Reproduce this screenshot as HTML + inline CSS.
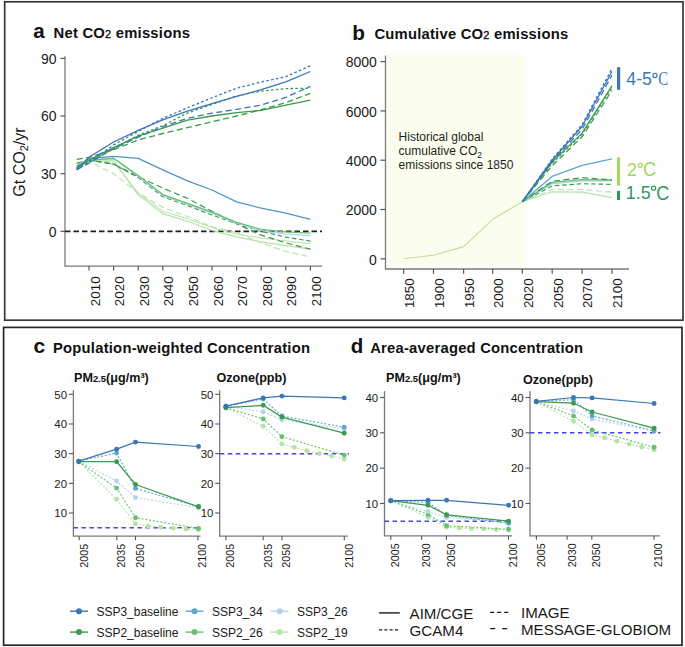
<!DOCTYPE html>
<html><head><meta charset="utf-8"><style>
html,body{margin:0;padding:0;background:#fff;}
body{width:685px;height:647px;overflow:hidden;font-family:"Liberation Sans",sans-serif;}
svg{display:block;}
</style></head><body>
<svg width="685" height="647" viewBox="0 0 685 647">
<rect width="685" height="647" fill="#fefefe"/>
<rect x="4.7" y="1.8" width="678.3" height="318.4" fill="none" stroke="#383838" stroke-width="1.7"/>
<rect x="3.6" y="327.4" width="678.4" height="317.8" fill="none" stroke="#262626" stroke-width="1.7"/>
<text x="33.20" y="37.50" font-family="Liberation Sans" font-size="20.5" font-weight="bold" text-anchor="start" fill="#111" >a</text>
<text x="53.6" y="37.6" font-family="Liberation Sans" font-size="14.8" letter-spacing="0.22" font-weight="bold" fill="#111">Net CO<tspan font-size="11" font-weight="normal" stroke="#111" stroke-width="0.35">2</tspan> emissions</text>
<text x="24.5" y="162" font-family="Liberation Sans" font-size="16" text-anchor="middle" fill="#1a1a1a" transform="rotate(-90 24.5 162)">Gt CO<tspan font-size="11" dy="3">2</tspan><tspan dy="-3">/yr</tspan></text>
<line x1="65.00" y1="56.30" x2="65.00" y2="266.80" stroke="#7a7a7a" stroke-width="1.3"/>
<line x1="65.00" y1="266.20" x2="322.00" y2="266.20" stroke="#7a7a7a" stroke-width="1.3"/>
<line x1="60.50" y1="231.30" x2="65.00" y2="231.30" stroke="#555555" stroke-width="1.2"/>
<text x="56.60" y="236.70" font-family="Liberation Sans" font-size="14" font-weight="normal" text-anchor="end" fill="#1a1a1a" >0</text>
<line x1="60.50" y1="173.67" x2="65.00" y2="173.67" stroke="#555555" stroke-width="1.2"/>
<text x="56.60" y="179.07" font-family="Liberation Sans" font-size="14" font-weight="normal" text-anchor="end" fill="#1a1a1a" >30</text>
<line x1="60.50" y1="116.04" x2="65.00" y2="116.04" stroke="#555555" stroke-width="1.2"/>
<text x="56.60" y="121.44" font-family="Liberation Sans" font-size="14" font-weight="normal" text-anchor="end" fill="#1a1a1a" >60</text>
<line x1="60.50" y1="58.41" x2="65.00" y2="58.41" stroke="#555555" stroke-width="1.2"/>
<text x="56.60" y="63.81" font-family="Liberation Sans" font-size="14" font-weight="normal" text-anchor="end" fill="#1a1a1a" >90</text>
<line x1="89.00" y1="266.20" x2="89.00" y2="270.60" stroke="#555555" stroke-width="1.2"/>
<text x="99.60" y="276.40" font-family="Liberation Sans" font-size="13.4" font-weight="normal" text-anchor="end" fill="#1a1a1a" transform="rotate(-90 99.60 276.40)" >2010</text>
<line x1="113.60" y1="266.20" x2="113.60" y2="270.60" stroke="#555555" stroke-width="1.2"/>
<text x="124.20" y="276.40" font-family="Liberation Sans" font-size="13.4" font-weight="normal" text-anchor="end" fill="#1a1a1a" transform="rotate(-90 124.20 276.40)" >2020</text>
<line x1="138.20" y1="266.20" x2="138.20" y2="270.60" stroke="#555555" stroke-width="1.2"/>
<text x="148.80" y="276.40" font-family="Liberation Sans" font-size="13.4" font-weight="normal" text-anchor="end" fill="#1a1a1a" transform="rotate(-90 148.80 276.40)" >2030</text>
<line x1="162.80" y1="266.20" x2="162.80" y2="270.60" stroke="#555555" stroke-width="1.2"/>
<text x="173.40" y="276.40" font-family="Liberation Sans" font-size="13.4" font-weight="normal" text-anchor="end" fill="#1a1a1a" transform="rotate(-90 173.40 276.40)" >2040</text>
<line x1="187.40" y1="266.20" x2="187.40" y2="270.60" stroke="#555555" stroke-width="1.2"/>
<text x="198.00" y="276.40" font-family="Liberation Sans" font-size="13.4" font-weight="normal" text-anchor="end" fill="#1a1a1a" transform="rotate(-90 198.00 276.40)" >2050</text>
<line x1="212.00" y1="266.20" x2="212.00" y2="270.60" stroke="#555555" stroke-width="1.2"/>
<text x="222.60" y="276.40" font-family="Liberation Sans" font-size="13.4" font-weight="normal" text-anchor="end" fill="#1a1a1a" transform="rotate(-90 222.60 276.40)" >2060</text>
<line x1="236.60" y1="266.20" x2="236.60" y2="270.60" stroke="#555555" stroke-width="1.2"/>
<text x="247.20" y="276.40" font-family="Liberation Sans" font-size="13.4" font-weight="normal" text-anchor="end" fill="#1a1a1a" transform="rotate(-90 247.20 276.40)" >2070</text>
<line x1="261.20" y1="266.20" x2="261.20" y2="270.60" stroke="#555555" stroke-width="1.2"/>
<text x="271.80" y="276.40" font-family="Liberation Sans" font-size="13.4" font-weight="normal" text-anchor="end" fill="#1a1a1a" transform="rotate(-90 271.80 276.40)" >2080</text>
<line x1="285.80" y1="266.20" x2="285.80" y2="270.60" stroke="#555555" stroke-width="1.2"/>
<text x="296.40" y="276.40" font-family="Liberation Sans" font-size="13.4" font-weight="normal" text-anchor="end" fill="#1a1a1a" transform="rotate(-90 296.40 276.40)" >2090</text>
<line x1="310.40" y1="266.20" x2="310.40" y2="270.60" stroke="#555555" stroke-width="1.2"/>
<text x="321.00" y="276.40" font-family="Liberation Sans" font-size="13.4" font-weight="normal" text-anchor="end" fill="#1a1a1a" transform="rotate(-90 321.00 276.40)" >2100</text>
<line x1="65.00" y1="231.30" x2="322.00" y2="231.30" stroke="#1e1e1e" stroke-width="1.8" stroke-dasharray="5.5 3"/>
<polyline points="76.7,164.1 89.0,161.2 113.6,173.7 138.2,192.9 162.8,207.3 187.4,216.5 212.0,226.7 236.6,232.6 261.2,242.8 285.8,251.5 310.4,256.8" fill="none" stroke="#b6e2aa" stroke-width="1.1" stroke-dasharray="6 3.5" stroke-linejoin="round" />
<polyline points="76.7,167.9 89.0,160.2 113.6,162.1 138.2,192.9 162.8,211.1 187.4,218.8 212.0,227.5 236.6,234.2 261.2,238.0 285.8,240.9 310.4,243.8" fill="none" stroke="#b6e2aa" stroke-width="1.0" stroke-linejoin="round" />
<polyline points="76.7,167.9 89.0,160.2 113.6,160.2 138.2,194.8 162.8,213.6 187.4,221.3 212.0,230.3 236.6,236.9 261.2,241.9 285.8,245.7 310.4,249.2" fill="none" stroke="#b6e2aa" stroke-width="1.2" stroke-linejoin="round" />
<polyline points="76.7,163.1 89.0,160.2 113.6,164.1 138.2,176.6 162.8,188.1 187.4,198.3 212.0,211.3 236.6,223.8 261.2,235.1 285.8,242.8 310.4,249.2" fill="none" stroke="#3b9a4b" stroke-width="1.2" stroke-dasharray="6 3.5" stroke-linejoin="round" />
<polyline points="76.7,166.0 89.0,160.2 113.6,164.1 138.2,177.5 162.8,196.7 187.4,205.6 212.0,215.0 236.6,223.8 261.2,231.3 285.8,237.1 310.4,241.1" fill="none" stroke="#3b9a4b" stroke-width="1.2" stroke-dasharray="4.5 2.8" stroke-linejoin="round" />
<polyline points="76.7,167.9 89.0,160.2 113.6,158.3 138.2,176.6 162.8,195.6 187.4,204.4 212.0,213.1 236.6,223.2 261.2,230.7 285.8,234.2 310.4,235.7" fill="none" stroke="#b4d3ea" stroke-width="1.2" stroke-linejoin="round" />
<polyline points="76.7,167.9 89.0,160.2 113.6,158.3 138.2,175.6 162.8,194.6 187.4,203.4 212.0,212.1 236.6,222.3 261.2,229.4 285.8,231.9 310.4,233.2" fill="none" stroke="#68bf70" stroke-width="1.3" stroke-linejoin="round" />
<polyline points="76.7,168.9 89.0,158.3 113.6,156.4 138.2,158.3 162.8,169.8 187.4,180.8 212.0,190.0 236.6,201.9 261.2,208.2 285.8,213.1 310.4,219.4" fill="none" stroke="#4d96c8" stroke-width="1.3" stroke-linejoin="round" />
<polyline points="76.7,159.3 89.0,157.3 113.6,149.7 138.2,139.9 162.8,133.5 187.4,127.6 212.0,121.8 236.6,116.0 261.2,109.7 285.8,102.6 310.4,93.4" fill="none" stroke="#3b9a4b" stroke-width="1.3" stroke-dasharray="6 3.5" stroke-linejoin="round" />
<polyline points="76.7,167.9 89.0,160.2 113.6,147.7 138.2,136.2 162.8,128.1 187.4,120.1 212.0,116.0 236.6,112.6 261.2,110.3 285.8,105.1 310.4,100.1" fill="none" stroke="#3b9a4b" stroke-width="1.3" stroke-linejoin="round" />
<polyline points="76.7,169.8 89.0,163.1 113.6,148.7 138.2,137.2 162.8,126.6 187.4,118.3 212.0,113.2 236.6,109.3 261.2,105.1 285.8,97.4 310.4,86.3" fill="none" stroke="#3a76b6" stroke-width="1.3" stroke-dasharray="6 3.5" stroke-linejoin="round" />
<polyline points="76.7,167.9 89.0,162.1 113.6,148.7 138.2,135.2 162.8,125.6 187.4,113.0 212.0,104.5 236.6,95.9 261.2,91.1 285.8,88.6 310.4,88.2" fill="none" stroke="#3b9a4b" stroke-width="1.3" stroke-dasharray="2.6 2.3" stroke-linejoin="round" />
<polyline points="76.7,169.8 89.0,162.1 113.6,144.9 138.2,131.4 162.8,118.3 187.4,107.8 212.0,97.8 236.6,88.2 261.2,82.0 285.8,76.7 310.4,65.7" fill="none" stroke="#3a76b6" stroke-width="1.3" stroke-dasharray="2.6 2.3" stroke-linejoin="round" />
<polyline points="76.7,168.9 89.0,157.3 113.6,142.0 138.2,130.4 162.8,119.9 187.4,111.2 212.0,103.6 236.6,96.3 261.2,89.7 285.8,81.8 310.4,71.5" fill="none" stroke="#3a76b6" stroke-width="1.3" stroke-linejoin="round" />
<text x="352.20" y="39.80" font-family="Liberation Sans" font-size="20.8" font-weight="bold" text-anchor="start" fill="#111" >b</text>
<text x="374.4" y="39" font-family="Liberation Sans" font-size="14.8" letter-spacing="0.22" font-weight="bold" fill="#111">Cumulative CO<tspan font-size="11" font-weight="normal" stroke="#111" stroke-width="0.35">2</tspan> emissions</text>
<rect x="386.5" y="54.2" width="137.3" height="212.8" fill="#fbfeee"/>
<line x1="385.50" y1="55.50" x2="385.50" y2="269.60" stroke="#7a7a7a" stroke-width="1.3"/>
<line x1="385.50" y1="269.00" x2="629.00" y2="269.00" stroke="#7a7a7a" stroke-width="1.3"/>
<line x1="380.50" y1="258.80" x2="385.50" y2="258.80" stroke="#555555" stroke-width="1.2"/>
<text x="376.80" y="264.50" font-family="Liberation Sans" font-size="14" font-weight="normal" text-anchor="end" fill="#1a1a1a" >0</text>
<line x1="380.50" y1="209.50" x2="385.50" y2="209.50" stroke="#555555" stroke-width="1.2"/>
<text x="376.80" y="215.20" font-family="Liberation Sans" font-size="14" font-weight="normal" text-anchor="end" fill="#1a1a1a" >2000</text>
<line x1="380.50" y1="160.20" x2="385.50" y2="160.20" stroke="#555555" stroke-width="1.2"/>
<text x="376.80" y="165.90" font-family="Liberation Sans" font-size="14" font-weight="normal" text-anchor="end" fill="#1a1a1a" >4000</text>
<line x1="380.50" y1="110.90" x2="385.50" y2="110.90" stroke="#555555" stroke-width="1.2"/>
<text x="376.80" y="116.60" font-family="Liberation Sans" font-size="14" font-weight="normal" text-anchor="end" fill="#1a1a1a" >6000</text>
<line x1="380.50" y1="61.60" x2="385.50" y2="61.60" stroke="#555555" stroke-width="1.2"/>
<text x="376.80" y="67.30" font-family="Liberation Sans" font-size="14" font-weight="normal" text-anchor="end" fill="#1a1a1a" >8000</text>
<line x1="403.70" y1="269.00" x2="403.70" y2="273.80" stroke="#555555" stroke-width="1.2"/>
<text x="414.10" y="278.30" font-family="Liberation Sans" font-size="13.4" font-weight="normal" text-anchor="end" fill="#1a1a1a" transform="rotate(-90 414.10 278.30)" >1850</text>
<line x1="433.50" y1="269.00" x2="433.50" y2="273.80" stroke="#555555" stroke-width="1.2"/>
<text x="443.90" y="278.30" font-family="Liberation Sans" font-size="13.4" font-weight="normal" text-anchor="end" fill="#1a1a1a" transform="rotate(-90 443.90 278.30)" >1900</text>
<line x1="463.60" y1="269.00" x2="463.60" y2="273.80" stroke="#555555" stroke-width="1.2"/>
<text x="474.00" y="278.30" font-family="Liberation Sans" font-size="13.4" font-weight="normal" text-anchor="end" fill="#1a1a1a" transform="rotate(-90 474.00 278.30)" >1950</text>
<line x1="492.70" y1="269.00" x2="492.70" y2="273.80" stroke="#555555" stroke-width="1.2"/>
<text x="503.10" y="278.30" font-family="Liberation Sans" font-size="13.4" font-weight="normal" text-anchor="end" fill="#1a1a1a" transform="rotate(-90 503.10 278.30)" >2000</text>
<line x1="522.30" y1="269.00" x2="522.30" y2="273.80" stroke="#555555" stroke-width="1.2"/>
<text x="532.70" y="278.30" font-family="Liberation Sans" font-size="13.4" font-weight="normal" text-anchor="end" fill="#1a1a1a" transform="rotate(-90 532.70 278.30)" >2020</text>
<line x1="552.20" y1="269.00" x2="552.20" y2="273.80" stroke="#555555" stroke-width="1.2"/>
<text x="562.60" y="278.30" font-family="Liberation Sans" font-size="13.4" font-weight="normal" text-anchor="end" fill="#1a1a1a" transform="rotate(-90 562.60 278.30)" >2050</text>
<line x1="582.10" y1="269.00" x2="582.10" y2="273.80" stroke="#555555" stroke-width="1.2"/>
<text x="592.50" y="278.30" font-family="Liberation Sans" font-size="13.4" font-weight="normal" text-anchor="end" fill="#1a1a1a" transform="rotate(-90 592.50 278.30)" >2070</text>
<line x1="612.00" y1="269.00" x2="612.00" y2="273.80" stroke="#555555" stroke-width="1.2"/>
<text x="622.40" y="278.30" font-family="Liberation Sans" font-size="13.4" font-weight="normal" text-anchor="end" fill="#1a1a1a" transform="rotate(-90 622.40 278.30)" >2100</text>
<polyline points="403.7,258.8 433.5,255.2 463.6,246.6 492.7,219.3 522.3,201.7" fill="none" stroke="#bfdf98" stroke-width="1.1" stroke-linejoin="round" />
<text font-family="Liberation Sans" font-size="12" fill="#1f1f1f"><tspan x="398.6" y="140.8">Historical global</tspan><tspan x="398.6" y="154.9">cumulative CO<tspan font-size="8.5" dy="3">2</tspan></tspan><tspan x="398.6" y="169">emissions since 1850</tspan></text>
<polyline points="522.3,201.7 552.2,191.8 582.1,192.2 612.0,197.6" fill="none" stroke="#b6e2aa" stroke-width="1.2" stroke-linejoin="round" />
<polyline points="522.3,201.7 552.2,189.5 582.1,189.5 612.0,192.2" fill="none" stroke="#b6e2aa" stroke-width="1.1" stroke-dasharray="6 3.5" stroke-linejoin="round" />
<polyline points="522.3,201.7 552.2,185.9 582.1,183.7 612.0,184.4" fill="none" stroke="#3b9a4b" stroke-width="1.2" stroke-dasharray="4.5 2.8" stroke-linejoin="round" />
<polyline points="522.3,201.7 552.2,183.6 582.1,181.2 612.0,180.8" fill="none" stroke="#b4d3ea" stroke-width="1.2" stroke-linejoin="round" />
<polyline points="522.3,201.7 552.2,182.4 582.1,179.7 612.0,180.0" fill="none" stroke="#68bf70" stroke-width="1.3" stroke-linejoin="round" />
<polyline points="522.3,201.7 552.2,181.2 582.1,177.7 612.0,179.9" fill="none" stroke="#3b9a4b" stroke-width="1.2" stroke-dasharray="6 3.5" stroke-linejoin="round" />
<polyline points="522.3,201.7 552.2,176.4 582.1,165.4 612.0,158.9" fill="none" stroke="#5fa6d2" stroke-width="1.3" stroke-linejoin="round" />
<polyline points="522.3,201.7 552.2,165.6 582.1,136.8 612.0,90.4" fill="none" stroke="#3b9a4b" stroke-width="1.3" stroke-dasharray="6 3.5" stroke-linejoin="round" />
<polyline points="522.3,201.7 552.2,163.2 582.1,134.3 612.0,87.2" fill="none" stroke="#3b9a4b" stroke-width="1.3" stroke-dasharray="2.6 2.3" stroke-linejoin="round" />
<polyline points="522.3,201.7 552.2,161.9 582.1,133.1 612.0,85.8" fill="none" stroke="#3b9a4b" stroke-width="1.3" stroke-linejoin="round" />
<polyline points="522.3,201.7 552.2,161.4 582.1,129.4 612.0,75.2" fill="none" stroke="#3a76b6" stroke-width="1.3" stroke-dasharray="6 3.5" stroke-linejoin="round" />
<polyline points="522.3,201.7 552.2,159.0 582.1,124.7 612.0,68.5" fill="none" stroke="#3a76b6" stroke-width="1.3" stroke-dasharray="2.6 2.3" stroke-linejoin="round" />
<polyline points="522.3,201.7 552.2,160.2 582.1,126.2 612.0,71.5" fill="none" stroke="#3a76b6" stroke-width="1.3" stroke-linejoin="round" />
<rect x="617" y="67.2" width="3.2" height="22.6" fill="#3a78b8"/>
<text x="626.3" y="85" font-family="Liberation Sans" font-size="17.8" fill="#3b78b8">4-5</text>
<circle cx="655" cy="75.5" r="2.05" fill="none" stroke="#3b78b8" stroke-width="1.2"/>
<text transform="translate(658.2 85.4) scale(0.77 1)" font-family="Liberation Serif" font-size="19.3" fill="#3b78b8">C</text>
<rect x="617" y="157.4" width="3.1" height="28.2" fill="#a9d85e"/>
<rect x="617" y="190.9" width="3.1" height="9.1" fill="#2f9a5f"/>
<text x="627" y="175.9" font-family="Liberation Sans" font-size="17.8" fill="#a6d55a">2</text>
<circle cx="640.35" cy="165.35" r="2.05" fill="none" stroke="#a6d55a" stroke-width="1.2"/>
<text transform="translate(642.9 176.1) scale(0.92 1)" font-family="Liberation Sans" font-size="20" fill="#a6d55a">C</text>
<text x="625.8" y="199.3" font-family="Liberation Sans" font-size="17.8" fill="#2f9a5f">1.5</text>
<circle cx="653.6" cy="188.2" r="2.05" fill="none" stroke="#2f9a5f" stroke-width="1.2"/>
<text transform="translate(656.2 199.7) scale(0.9 1)" font-family="Liberation Sans" font-size="20" fill="#2f9a5f">C</text>
<text x="33.50" y="353.40" font-family="Liberation Sans" font-size="21" font-weight="bold" text-anchor="start" fill="#111" >c</text>
<text x="53.00" y="353.00" font-family="Liberation Sans" font-size="14.8" font-weight="bold" text-anchor="start" fill="#111" letter-spacing="0.22">Population-weighted Concentration</text>
<text x="33.50" y="0.00" font-family="Liberation Sans" font-size="1" font-weight="normal" text-anchor="start" fill="#1a1a1a" ></text>
<text x="350.80" y="353.20" font-family="Liberation Sans" font-size="20.5" font-weight="bold" text-anchor="start" fill="#111" >d</text>
<text x="370.20" y="353.00" font-family="Liberation Sans" font-size="14.8" font-weight="bold" text-anchor="start" fill="#111" letter-spacing="0.22">Area-averaged Concentration</text>
<text x="74.0" y="382.0" font-family="Liberation Sans" font-size="12.6" font-weight="bold" fill="#111">PM<tspan font-size="9.5">2.5</tspan>(μg/m³)</text>
<text x="216.50" y="382.00" font-family="Liberation Sans" font-size="12.6" font-weight="bold" text-anchor="start" fill="#111" >Ozone(ppb)</text>
<text x="386.0" y="381.9" font-family="Liberation Sans" font-size="12.6" font-weight="bold" fill="#111">PM<tspan font-size="9.5">2.5</tspan>(μg/m³)</text>
<text x="523.00" y="384.20" font-family="Liberation Sans" font-size="12.6" font-weight="bold" text-anchor="start" fill="#111" >Ozone(ppb)</text>
<line x1="73.40" y1="390.20" x2="73.40" y2="536.80" stroke="#7a7a7a" stroke-width="1.3"/>
<line x1="73.40" y1="536.20" x2="200.50" y2="536.20" stroke="#7a7a7a" stroke-width="1.3"/>
<line x1="68.90" y1="513.00" x2="73.40" y2="513.00" stroke="#555555" stroke-width="1.1"/>
<text x="67.00" y="517.20" font-family="Liberation Sans" font-size="11.4" font-weight="normal" text-anchor="end" fill="#1a1a1a" >10</text>
<line x1="68.90" y1="483.32" x2="73.40" y2="483.32" stroke="#555555" stroke-width="1.1"/>
<text x="67.00" y="487.52" font-family="Liberation Sans" font-size="11.4" font-weight="normal" text-anchor="end" fill="#1a1a1a" >20</text>
<line x1="68.90" y1="453.65" x2="73.40" y2="453.65" stroke="#555555" stroke-width="1.1"/>
<text x="67.00" y="457.85" font-family="Liberation Sans" font-size="11.4" font-weight="normal" text-anchor="end" fill="#1a1a1a" >30</text>
<line x1="68.90" y1="423.98" x2="73.40" y2="423.98" stroke="#555555" stroke-width="1.1"/>
<text x="67.00" y="428.18" font-family="Liberation Sans" font-size="11.4" font-weight="normal" text-anchor="end" fill="#1a1a1a" >40</text>
<line x1="68.90" y1="394.30" x2="73.40" y2="394.30" stroke="#555555" stroke-width="1.1"/>
<text x="67.00" y="398.50" font-family="Liberation Sans" font-size="11.4" font-weight="normal" text-anchor="end" fill="#1a1a1a" >50</text>
<line x1="79.20" y1="536.20" x2="79.20" y2="540.20" stroke="#555555" stroke-width="1.1"/>
<text x="87.70" y="543.70" font-family="Liberation Sans" font-size="10.8" font-weight="normal" text-anchor="end" fill="#1a1a1a" transform="rotate(-90 87.70 543.70)" >2005</text>
<line x1="116.80" y1="536.20" x2="116.80" y2="540.20" stroke="#555555" stroke-width="1.1"/>
<text x="125.30" y="543.70" font-family="Liberation Sans" font-size="10.8" font-weight="normal" text-anchor="end" fill="#1a1a1a" transform="rotate(-90 125.30 543.70)" >2035</text>
<line x1="135.50" y1="536.20" x2="135.50" y2="540.20" stroke="#555555" stroke-width="1.1"/>
<text x="144.00" y="543.70" font-family="Liberation Sans" font-size="10.8" font-weight="normal" text-anchor="end" fill="#1a1a1a" transform="rotate(-90 144.00 543.70)" >2050</text>
<line x1="197.90" y1="536.20" x2="197.90" y2="540.20" stroke="#555555" stroke-width="1.1"/>
<text x="206.40" y="543.70" font-family="Liberation Sans" font-size="10.8" font-weight="normal" text-anchor="end" fill="#1a1a1a" transform="rotate(-90 206.40 543.70)" >2100</text>
<line x1="73.40" y1="527.84" x2="200.50" y2="527.84" stroke="#4646d8" stroke-width="1.5" stroke-dasharray="4.5 3.5"/>
<polyline points="78.8,461.7 116.6,499.3 135.5,523.7 148.1,526.1 160.7,527.2 173.3,528.1 185.9,529.0 198.5,529.9" fill="none" stroke="#b6e2aa" stroke-width="1.1" stroke-dasharray="2 1.8" stroke-linejoin="round" />
<circle cx="78.8" cy="461.7" r="2.45" fill="#b6e2aa"/>
<circle cx="116.6" cy="499.3" r="2.45" fill="#b6e2aa"/>
<circle cx="135.5" cy="523.7" r="2.45" fill="#b6e2aa"/>
<circle cx="148.1" cy="526.1" r="2.45" fill="#b6e2aa"/>
<circle cx="160.7" cy="527.2" r="2.45" fill="#b6e2aa"/>
<circle cx="173.3" cy="528.1" r="2.45" fill="#b6e2aa"/>
<circle cx="185.9" cy="529.0" r="2.45" fill="#b6e2aa"/>
<circle cx="198.5" cy="529.9" r="2.45" fill="#b6e2aa"/>
<polyline points="78.8,461.7 116.6,488.1 135.5,517.7 198.5,528.4" fill="none" stroke="#68bf70" stroke-width="1.1" stroke-dasharray="2 1.8" stroke-linejoin="round" />
<circle cx="78.8" cy="461.7" r="2.45" fill="#68bf70"/>
<circle cx="116.6" cy="488.1" r="2.45" fill="#68bf70"/>
<circle cx="135.5" cy="517.7" r="2.45" fill="#68bf70"/>
<circle cx="198.5" cy="528.4" r="2.45" fill="#68bf70"/>
<polyline points="78.8,461.1 116.6,481.0 135.5,497.6 198.5,507.7" fill="none" stroke="#b4d3ea" stroke-width="1.1" stroke-dasharray="2 1.8" stroke-linejoin="round" />
<circle cx="78.8" cy="461.1" r="2.45" fill="#b4d3ea"/>
<circle cx="116.6" cy="481.0" r="2.45" fill="#b4d3ea"/>
<circle cx="135.5" cy="497.6" r="2.45" fill="#b4d3ea"/>
<circle cx="198.5" cy="507.7" r="2.45" fill="#b4d3ea"/>
<polyline points="78.8,461.1 116.6,453.1 135.5,488.4 198.5,506.5" fill="none" stroke="#5fa6d2" stroke-width="1.1" stroke-dasharray="2 1.8" stroke-linejoin="round" />
<circle cx="78.8" cy="461.1" r="2.45" fill="#5fa6d2"/>
<circle cx="116.6" cy="453.1" r="2.45" fill="#5fa6d2"/>
<circle cx="135.5" cy="488.4" r="2.45" fill="#5fa6d2"/>
<circle cx="198.5" cy="506.5" r="2.45" fill="#5fa6d2"/>
<polyline points="78.8,461.7 116.6,461.7 135.5,484.5 198.5,506.8" fill="none" stroke="#3b9a4b" stroke-width="1.25" stroke-linejoin="round" />
<circle cx="78.8" cy="461.7" r="2.45" fill="#3b9a4b"/>
<circle cx="116.6" cy="461.7" r="2.45" fill="#3b9a4b"/>
<circle cx="135.5" cy="484.5" r="2.45" fill="#3b9a4b"/>
<circle cx="198.5" cy="506.8" r="2.45" fill="#3b9a4b"/>
<polyline points="78.8,461.1 116.6,449.2 135.5,442.1 198.5,446.5" fill="none" stroke="#3a76b6" stroke-width="1.25" stroke-linejoin="round" />
<circle cx="78.8" cy="461.1" r="2.45" fill="#3a76b6"/>
<circle cx="116.6" cy="449.2" r="2.45" fill="#3a76b6"/>
<circle cx="135.5" cy="442.1" r="2.45" fill="#3a76b6"/>
<circle cx="198.5" cy="446.5" r="2.45" fill="#3a76b6"/>
<line x1="219.70" y1="390.20" x2="219.70" y2="536.80" stroke="#7a7a7a" stroke-width="1.3"/>
<line x1="219.70" y1="536.20" x2="348.00" y2="536.20" stroke="#7a7a7a" stroke-width="1.3"/>
<line x1="215.20" y1="513.00" x2="219.70" y2="513.00" stroke="#555555" stroke-width="1.1"/>
<text x="213.30" y="517.20" font-family="Liberation Sans" font-size="11.4" font-weight="normal" text-anchor="end" fill="#1a1a1a" >10</text>
<line x1="215.20" y1="483.32" x2="219.70" y2="483.32" stroke="#555555" stroke-width="1.1"/>
<text x="213.30" y="487.52" font-family="Liberation Sans" font-size="11.4" font-weight="normal" text-anchor="end" fill="#1a1a1a" >20</text>
<line x1="215.20" y1="453.65" x2="219.70" y2="453.65" stroke="#555555" stroke-width="1.1"/>
<text x="213.30" y="457.85" font-family="Liberation Sans" font-size="11.4" font-weight="normal" text-anchor="end" fill="#1a1a1a" >30</text>
<line x1="215.20" y1="423.98" x2="219.70" y2="423.98" stroke="#555555" stroke-width="1.1"/>
<text x="213.30" y="428.18" font-family="Liberation Sans" font-size="11.4" font-weight="normal" text-anchor="end" fill="#1a1a1a" >40</text>
<line x1="215.20" y1="394.30" x2="219.70" y2="394.30" stroke="#555555" stroke-width="1.1"/>
<text x="213.30" y="398.50" font-family="Liberation Sans" font-size="11.4" font-weight="normal" text-anchor="end" fill="#1a1a1a" >50</text>
<line x1="225.90" y1="536.20" x2="225.90" y2="540.20" stroke="#555555" stroke-width="1.1"/>
<text x="234.40" y="543.70" font-family="Liberation Sans" font-size="10.8" font-weight="normal" text-anchor="end" fill="#1a1a1a" transform="rotate(-90 234.40 543.70)" >2005</text>
<line x1="263.20" y1="536.20" x2="263.20" y2="540.20" stroke="#555555" stroke-width="1.1"/>
<text x="271.70" y="543.70" font-family="Liberation Sans" font-size="10.8" font-weight="normal" text-anchor="end" fill="#1a1a1a" transform="rotate(-90 271.70 543.70)" >2035</text>
<line x1="282.00" y1="536.20" x2="282.00" y2="540.20" stroke="#555555" stroke-width="1.1"/>
<text x="290.50" y="543.70" font-family="Liberation Sans" font-size="10.8" font-weight="normal" text-anchor="end" fill="#1a1a1a" transform="rotate(-90 290.50 543.70)" >2050</text>
<line x1="344.30" y1="536.20" x2="344.30" y2="540.20" stroke="#555555" stroke-width="1.1"/>
<text x="352.80" y="543.70" font-family="Liberation Sans" font-size="10.8" font-weight="normal" text-anchor="end" fill="#1a1a1a" transform="rotate(-90 352.80 543.70)" >2100</text>
<line x1="219.70" y1="453.65" x2="349.00" y2="453.65" stroke="#4646d8" stroke-width="1.5" stroke-dasharray="4.5 3.5"/>
<polyline points="225.9,407.7 263.2,426.3 281.9,443.9 294.4,447.4 306.8,450.7 319.3,453.6 331.7,456.0 344.2,459.0" fill="none" stroke="#b6e2aa" stroke-width="1.1" stroke-dasharray="2 1.8" stroke-linejoin="round" />
<circle cx="225.9" cy="407.7" r="2.45" fill="#b6e2aa"/>
<circle cx="263.2" cy="426.3" r="2.45" fill="#b6e2aa"/>
<circle cx="281.9" cy="443.9" r="2.45" fill="#b6e2aa"/>
<circle cx="294.4" cy="447.4" r="2.45" fill="#b6e2aa"/>
<circle cx="306.8" cy="450.7" r="2.45" fill="#b6e2aa"/>
<circle cx="319.3" cy="453.6" r="2.45" fill="#b6e2aa"/>
<circle cx="331.7" cy="456.0" r="2.45" fill="#b6e2aa"/>
<circle cx="344.2" cy="459.0" r="2.45" fill="#b6e2aa"/>
<polyline points="225.9,407.7 263.2,418.9 281.9,436.7 344.2,455.1" fill="none" stroke="#68bf70" stroke-width="1.1" stroke-dasharray="2 1.8" stroke-linejoin="round" />
<circle cx="225.9" cy="407.7" r="2.45" fill="#68bf70"/>
<circle cx="263.2" cy="418.9" r="2.45" fill="#68bf70"/>
<circle cx="281.9" cy="436.7" r="2.45" fill="#68bf70"/>
<circle cx="344.2" cy="455.1" r="2.45" fill="#68bf70"/>
<polyline points="225.9,406.2 263.2,411.8 281.9,419.8 344.2,429.0" fill="none" stroke="#b4d3ea" stroke-width="1.1" stroke-dasharray="2 1.8" stroke-linejoin="round" />
<circle cx="225.9" cy="406.2" r="2.45" fill="#b4d3ea"/>
<circle cx="263.2" cy="411.8" r="2.45" fill="#b4d3ea"/>
<circle cx="281.9" cy="419.8" r="2.45" fill="#b4d3ea"/>
<circle cx="344.2" cy="429.0" r="2.45" fill="#b4d3ea"/>
<polyline points="225.9,406.2 263.2,399.0 281.9,416.0 344.2,427.2" fill="none" stroke="#5fa6d2" stroke-width="1.1" stroke-dasharray="2 1.8" stroke-linejoin="round" />
<circle cx="225.9" cy="406.2" r="2.45" fill="#5fa6d2"/>
<circle cx="263.2" cy="399.0" r="2.45" fill="#5fa6d2"/>
<circle cx="281.9" cy="416.0" r="2.45" fill="#5fa6d2"/>
<circle cx="344.2" cy="427.2" r="2.45" fill="#5fa6d2"/>
<polyline points="225.9,407.7 263.2,405.3 281.9,417.1 344.2,433.2" fill="none" stroke="#3b9a4b" stroke-width="1.25" stroke-linejoin="round" />
<circle cx="225.9" cy="407.7" r="2.45" fill="#3b9a4b"/>
<circle cx="263.2" cy="405.3" r="2.45" fill="#3b9a4b"/>
<circle cx="281.9" cy="417.1" r="2.45" fill="#3b9a4b"/>
<circle cx="344.2" cy="433.2" r="2.45" fill="#3b9a4b"/>
<polyline points="225.9,406.2 263.2,397.9 281.9,396.1 344.2,397.9" fill="none" stroke="#3a76b6" stroke-width="1.25" stroke-linejoin="round" />
<circle cx="225.9" cy="406.2" r="2.45" fill="#3a76b6"/>
<circle cx="263.2" cy="397.9" r="2.45" fill="#3a76b6"/>
<circle cx="281.9" cy="396.1" r="2.45" fill="#3a76b6"/>
<circle cx="344.2" cy="397.9" r="2.45" fill="#3a76b6"/>
<line x1="384.50" y1="391.10" x2="384.50" y2="536.40" stroke="#7a7a7a" stroke-width="1.3"/>
<line x1="384.50" y1="535.80" x2="512.00" y2="535.80" stroke="#7a7a7a" stroke-width="1.3"/>
<line x1="380.00" y1="503.49" x2="384.50" y2="503.49" stroke="#555555" stroke-width="1.1"/>
<text x="378.10" y="507.69" font-family="Liberation Sans" font-size="11.4" font-weight="normal" text-anchor="end" fill="#1a1a1a" >10</text>
<line x1="380.00" y1="468.16" x2="384.50" y2="468.16" stroke="#555555" stroke-width="1.1"/>
<text x="378.10" y="472.36" font-family="Liberation Sans" font-size="11.4" font-weight="normal" text-anchor="end" fill="#1a1a1a" >20</text>
<line x1="380.00" y1="432.83" x2="384.50" y2="432.83" stroke="#555555" stroke-width="1.1"/>
<text x="378.10" y="437.03" font-family="Liberation Sans" font-size="11.4" font-weight="normal" text-anchor="end" fill="#1a1a1a" >30</text>
<line x1="380.00" y1="397.50" x2="384.50" y2="397.50" stroke="#555555" stroke-width="1.1"/>
<text x="378.10" y="401.70" font-family="Liberation Sans" font-size="11.4" font-weight="normal" text-anchor="end" fill="#1a1a1a" >40</text>
<line x1="390.80" y1="535.80" x2="390.80" y2="539.80" stroke="#555555" stroke-width="1.1"/>
<text x="399.30" y="543.30" font-family="Liberation Sans" font-size="10.8" font-weight="normal" text-anchor="end" fill="#1a1a1a" transform="rotate(-90 399.30 543.30)" >2005</text>
<line x1="421.60" y1="535.80" x2="421.60" y2="539.80" stroke="#555555" stroke-width="1.1"/>
<text x="430.10" y="543.30" font-family="Liberation Sans" font-size="10.8" font-weight="normal" text-anchor="end" fill="#1a1a1a" transform="rotate(-90 430.10 543.30)" >2030</text>
<line x1="446.40" y1="535.80" x2="446.40" y2="539.80" stroke="#555555" stroke-width="1.1"/>
<text x="454.90" y="543.30" font-family="Liberation Sans" font-size="10.8" font-weight="normal" text-anchor="end" fill="#1a1a1a" transform="rotate(-90 454.90 543.30)" >2050</text>
<line x1="508.50" y1="535.80" x2="508.50" y2="539.80" stroke="#555555" stroke-width="1.1"/>
<text x="517.00" y="543.30" font-family="Liberation Sans" font-size="10.8" font-weight="normal" text-anchor="end" fill="#1a1a1a" transform="rotate(-90 517.00 543.30)" >2100</text>
<line x1="384.50" y1="521.15" x2="512.00" y2="521.15" stroke="#4646d8" stroke-width="1.5" stroke-dasharray="4.5 3.5"/>
<polyline points="390.8,500.7 428.0,517.3 446.6,527.2 459.0,527.9 471.4,528.6 483.8,528.9 496.2,529.6 508.6,530.0" fill="none" stroke="#b6e2aa" stroke-width="1.1" stroke-dasharray="2 1.8" stroke-linejoin="round" />
<circle cx="390.8" cy="500.7" r="2.45" fill="#b6e2aa"/>
<circle cx="428.0" cy="517.3" r="2.45" fill="#b6e2aa"/>
<circle cx="446.6" cy="527.2" r="2.45" fill="#b6e2aa"/>
<circle cx="459.0" cy="527.9" r="2.45" fill="#b6e2aa"/>
<circle cx="471.4" cy="528.6" r="2.45" fill="#b6e2aa"/>
<circle cx="483.8" cy="528.9" r="2.45" fill="#b6e2aa"/>
<circle cx="496.2" cy="529.6" r="2.45" fill="#b6e2aa"/>
<circle cx="508.6" cy="530.0" r="2.45" fill="#b6e2aa"/>
<polyline points="390.8,500.7 428.0,514.4 446.6,525.7 508.6,529.3" fill="none" stroke="#68bf70" stroke-width="1.1" stroke-dasharray="2 1.8" stroke-linejoin="round" />
<circle cx="390.8" cy="500.7" r="2.45" fill="#68bf70"/>
<circle cx="428.0" cy="514.4" r="2.45" fill="#68bf70"/>
<circle cx="446.6" cy="525.7" r="2.45" fill="#68bf70"/>
<circle cx="508.6" cy="529.3" r="2.45" fill="#68bf70"/>
<polyline points="390.8,500.7 428.0,511.6 446.6,517.3 508.6,522.9" fill="none" stroke="#b4d3ea" stroke-width="1.1" stroke-dasharray="2 1.8" stroke-linejoin="round" />
<circle cx="390.8" cy="500.7" r="2.45" fill="#b4d3ea"/>
<circle cx="428.0" cy="511.6" r="2.45" fill="#b4d3ea"/>
<circle cx="446.6" cy="517.3" r="2.45" fill="#b4d3ea"/>
<circle cx="508.6" cy="522.9" r="2.45" fill="#b4d3ea"/>
<polyline points="390.8,500.7 428.0,502.4 446.6,515.5 508.6,523.3" fill="none" stroke="#5fa6d2" stroke-width="1.1" stroke-dasharray="2 1.8" stroke-linejoin="round" />
<circle cx="390.8" cy="500.7" r="2.45" fill="#5fa6d2"/>
<circle cx="428.0" cy="502.4" r="2.45" fill="#5fa6d2"/>
<circle cx="446.6" cy="515.5" r="2.45" fill="#5fa6d2"/>
<circle cx="508.6" cy="523.3" r="2.45" fill="#5fa6d2"/>
<polyline points="390.8,500.7 428.0,505.3 446.6,514.8 508.6,521.2" fill="none" stroke="#3b9a4b" stroke-width="1.25" stroke-linejoin="round" />
<circle cx="390.8" cy="500.7" r="2.45" fill="#3b9a4b"/>
<circle cx="428.0" cy="505.3" r="2.45" fill="#3b9a4b"/>
<circle cx="446.6" cy="514.8" r="2.45" fill="#3b9a4b"/>
<circle cx="508.6" cy="521.2" r="2.45" fill="#3b9a4b"/>
<polyline points="390.8,500.7 428.0,500.3 446.6,500.3 508.6,505.3" fill="none" stroke="#3a76b6" stroke-width="1.25" stroke-linejoin="round" />
<circle cx="390.8" cy="500.7" r="2.45" fill="#3a76b6"/>
<circle cx="428.0" cy="500.3" r="2.45" fill="#3a76b6"/>
<circle cx="446.6" cy="500.3" r="2.45" fill="#3a76b6"/>
<circle cx="508.6" cy="505.3" r="2.45" fill="#3a76b6"/>
<line x1="530.00" y1="391.10" x2="530.00" y2="536.40" stroke="#7a7a7a" stroke-width="1.3"/>
<line x1="530.00" y1="535.80" x2="660.00" y2="535.80" stroke="#7a7a7a" stroke-width="1.3"/>
<line x1="525.50" y1="503.49" x2="530.00" y2="503.49" stroke="#555555" stroke-width="1.1"/>
<text x="523.60" y="507.69" font-family="Liberation Sans" font-size="11.4" font-weight="normal" text-anchor="end" fill="#1a1a1a" >10</text>
<line x1="525.50" y1="468.16" x2="530.00" y2="468.16" stroke="#555555" stroke-width="1.1"/>
<text x="523.60" y="472.36" font-family="Liberation Sans" font-size="11.4" font-weight="normal" text-anchor="end" fill="#1a1a1a" >20</text>
<line x1="525.50" y1="432.83" x2="530.00" y2="432.83" stroke="#555555" stroke-width="1.1"/>
<text x="523.60" y="437.03" font-family="Liberation Sans" font-size="11.4" font-weight="normal" text-anchor="end" fill="#1a1a1a" >30</text>
<line x1="525.50" y1="397.50" x2="530.00" y2="397.50" stroke="#555555" stroke-width="1.1"/>
<text x="523.60" y="401.70" font-family="Liberation Sans" font-size="11.4" font-weight="normal" text-anchor="end" fill="#1a1a1a" >40</text>
<line x1="536.40" y1="535.80" x2="536.40" y2="539.80" stroke="#555555" stroke-width="1.1"/>
<text x="544.90" y="543.30" font-family="Liberation Sans" font-size="10.8" font-weight="normal" text-anchor="end" fill="#1a1a1a" transform="rotate(-90 544.90 543.30)" >2005</text>
<line x1="567.10" y1="535.80" x2="567.10" y2="539.80" stroke="#555555" stroke-width="1.1"/>
<text x="575.60" y="543.30" font-family="Liberation Sans" font-size="10.8" font-weight="normal" text-anchor="end" fill="#1a1a1a" transform="rotate(-90 575.60 543.30)" >2030</text>
<line x1="591.80" y1="535.80" x2="591.80" y2="539.80" stroke="#555555" stroke-width="1.1"/>
<text x="600.30" y="543.30" font-family="Liberation Sans" font-size="10.8" font-weight="normal" text-anchor="end" fill="#1a1a1a" transform="rotate(-90 600.30 543.30)" >2050</text>
<line x1="654.00" y1="535.80" x2="654.00" y2="539.80" stroke="#555555" stroke-width="1.1"/>
<text x="662.50" y="543.30" font-family="Liberation Sans" font-size="10.8" font-weight="normal" text-anchor="end" fill="#1a1a1a" transform="rotate(-90 662.50 543.30)" >2100</text>
<line x1="530.00" y1="432.83" x2="660.50" y2="432.83" stroke="#4646d8" stroke-width="1.5" stroke-dasharray="4.5 3.5"/>
<polyline points="536.3,401.7 573.5,421.2 592.1,434.9 604.5,437.8 616.9,441.3 629.3,444.1 641.7,447.0 654.1,449.8" fill="none" stroke="#b6e2aa" stroke-width="1.1" stroke-dasharray="2 1.8" stroke-linejoin="round" />
<circle cx="536.3" cy="401.7" r="2.45" fill="#b6e2aa"/>
<circle cx="573.5" cy="421.2" r="2.45" fill="#b6e2aa"/>
<circle cx="592.1" cy="434.9" r="2.45" fill="#b6e2aa"/>
<circle cx="604.5" cy="437.8" r="2.45" fill="#b6e2aa"/>
<circle cx="616.9" cy="441.3" r="2.45" fill="#b6e2aa"/>
<circle cx="629.3" cy="444.1" r="2.45" fill="#b6e2aa"/>
<circle cx="641.7" cy="447.0" r="2.45" fill="#b6e2aa"/>
<circle cx="654.1" cy="449.8" r="2.45" fill="#b6e2aa"/>
<polyline points="536.3,401.7 573.5,415.9 592.1,430.0 654.1,447.3" fill="none" stroke="#68bf70" stroke-width="1.1" stroke-dasharray="2 1.8" stroke-linejoin="round" />
<circle cx="536.3" cy="401.7" r="2.45" fill="#68bf70"/>
<circle cx="573.5" cy="415.9" r="2.45" fill="#68bf70"/>
<circle cx="592.1" cy="430.0" r="2.45" fill="#68bf70"/>
<circle cx="654.1" cy="447.3" r="2.45" fill="#68bf70"/>
<polyline points="536.3,401.7 573.5,410.9 592.1,419.1 654.1,431.1" fill="none" stroke="#b4d3ea" stroke-width="1.1" stroke-dasharray="2 1.8" stroke-linejoin="round" />
<circle cx="536.3" cy="401.7" r="2.45" fill="#b4d3ea"/>
<circle cx="573.5" cy="410.9" r="2.45" fill="#b4d3ea"/>
<circle cx="592.1" cy="419.1" r="2.45" fill="#b4d3ea"/>
<circle cx="654.1" cy="431.1" r="2.45" fill="#b4d3ea"/>
<polyline points="536.3,401.7 573.5,399.6 592.1,415.9 654.1,430.7" fill="none" stroke="#5fa6d2" stroke-width="1.1" stroke-dasharray="2 1.8" stroke-linejoin="round" />
<circle cx="536.3" cy="401.7" r="2.45" fill="#5fa6d2"/>
<circle cx="573.5" cy="399.6" r="2.45" fill="#5fa6d2"/>
<circle cx="592.1" cy="415.9" r="2.45" fill="#5fa6d2"/>
<circle cx="654.1" cy="430.7" r="2.45" fill="#5fa6d2"/>
<polyline points="536.3,401.7 573.5,403.2 592.1,412.0 654.1,428.2" fill="none" stroke="#3b9a4b" stroke-width="1.25" stroke-linejoin="round" />
<circle cx="536.3" cy="401.7" r="2.45" fill="#3b9a4b"/>
<circle cx="573.5" cy="403.2" r="2.45" fill="#3b9a4b"/>
<circle cx="592.1" cy="412.0" r="2.45" fill="#3b9a4b"/>
<circle cx="654.1" cy="428.2" r="2.45" fill="#3b9a4b"/>
<polyline points="536.3,401.4 573.5,397.5 592.1,397.9 654.1,403.5" fill="none" stroke="#3a76b6" stroke-width="1.25" stroke-linejoin="round" />
<circle cx="536.3" cy="401.4" r="2.45" fill="#3a76b6"/>
<circle cx="573.5" cy="397.5" r="2.45" fill="#3a76b6"/>
<circle cx="592.1" cy="397.9" r="2.45" fill="#3a76b6"/>
<circle cx="654.1" cy="403.5" r="2.45" fill="#3a76b6"/>
<line x1="70.00" y1="611.20" x2="88.00" y2="611.20" stroke="#3a76b6" stroke-width="1.4"/>
<circle cx="79.0" cy="611.2" r="3" fill="#3a76b6"/>
<text x="96.40" y="615.80" font-family="Liberation Sans" font-size="12" font-weight="normal" text-anchor="start" fill="#1a1a1a" >SSP3_baseline</text>
<line x1="185.50" y1="611.20" x2="203.50" y2="611.20" stroke="#5fa6d2" stroke-width="1.4"/>
<circle cx="194.5" cy="611.2" r="3" fill="#5fa6d2"/>
<text x="211.90" y="615.80" font-family="Liberation Sans" font-size="12" font-weight="normal" text-anchor="start" fill="#1a1a1a" >SSP3_34</text>
<line x1="270.60" y1="611.20" x2="288.60" y2="611.20" stroke="#b4d3ea" stroke-width="1.4"/>
<circle cx="279.6" cy="611.2" r="3" fill="#b4d3ea"/>
<text x="297.00" y="615.80" font-family="Liberation Sans" font-size="12" font-weight="normal" text-anchor="start" fill="#1a1a1a" >SSP3_26</text>
<line x1="70.00" y1="632.10" x2="88.00" y2="632.10" stroke="#3b9a4b" stroke-width="1.4"/>
<circle cx="79.0" cy="632.1" r="3" fill="#3b9a4b"/>
<text x="96.40" y="636.70" font-family="Liberation Sans" font-size="12" font-weight="normal" text-anchor="start" fill="#1a1a1a" >SSP2_baseline</text>
<line x1="185.50" y1="632.10" x2="203.50" y2="632.10" stroke="#68bf70" stroke-width="1.4"/>
<circle cx="194.5" cy="632.1" r="3" fill="#68bf70"/>
<text x="211.90" y="636.70" font-family="Liberation Sans" font-size="12" font-weight="normal" text-anchor="start" fill="#1a1a1a" >SSP2_26</text>
<line x1="270.60" y1="632.10" x2="288.60" y2="632.10" stroke="#b6e2aa" stroke-width="1.4"/>
<circle cx="279.6" cy="632.1" r="3" fill="#b6e2aa"/>
<text x="297.00" y="636.70" font-family="Liberation Sans" font-size="12" font-weight="normal" text-anchor="start" fill="#1a1a1a" >SSP2_19</text>
<line x1="379.10" y1="612.90" x2="399.80" y2="612.90" stroke="#1a1a1a" stroke-width="1.4"/>
<text x="409.60" y="619.20" font-family="Liberation Sans" font-size="15.1" font-weight="normal" text-anchor="start" fill="#1a1a1a" >AIM/CGE</text>
<line x1="379.10" y1="629.80" x2="399.00" y2="629.80" stroke="#1a1a1a" stroke-width="1.2" stroke-dasharray="3 2.3"/>
<text x="409.60" y="636.40" font-family="Liberation Sans" font-size="15.1" font-weight="normal" text-anchor="start" fill="#1a1a1a" >GCAM4</text>
<line x1="490.20" y1="612.30" x2="510.70" y2="612.30" stroke="#1a1a1a" stroke-width="1.2" stroke-dasharray="4 3"/>
<text x="521.00" y="617.80" font-family="Liberation Sans" font-size="15.1" font-weight="normal" text-anchor="start" fill="#1a1a1a" >IMAGE</text>
<line x1="490.20" y1="628.60" x2="508.00" y2="628.60" stroke="#1a1a1a" stroke-width="1.2" stroke-dasharray="5 7"/>
<text x="521.00" y="634.60" font-family="Liberation Sans" font-size="15.1" font-weight="normal" text-anchor="start" fill="#1a1a1a" >MESSAGE-GLOBIOM</text>
</svg>
</body></html>
